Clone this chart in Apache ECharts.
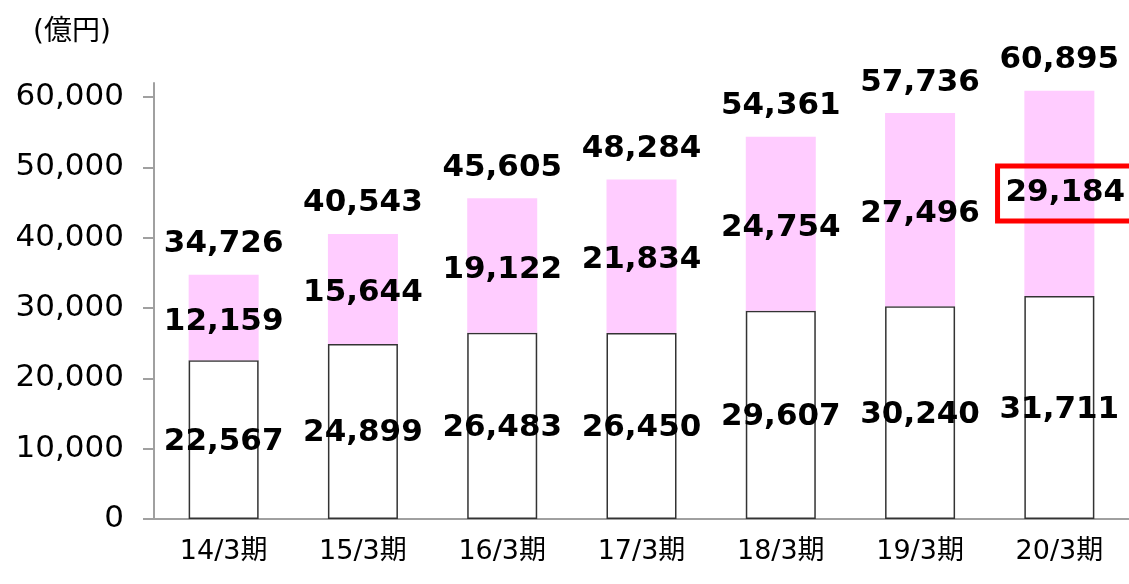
<!DOCTYPE html>
<html>
<head>
<meta charset="utf-8">
<script src="https://cdn.jsdelivr.net/npm/echarts@6/dist/echarts.min.js"></script>
<style>
    html, body { margin: 0; padding: 0; background: #fff; }
    #chart { width: 1129px; height: 584px; }
</style>
</head>
<body>
<div id="chart"></div>
<script>
const categories = ['14/3期', '15/3期', '16/3期', '17/3期', '18/3期', '19/3期', '20/3期'];
const baseValues = [22567, 24899, 26483, 26450, 29607, 30240, 31711];
const addValues = [12159, 15644, 19122, 21834, 24754, 27496, 29184];
const totalValues = [34726, 40543, 45605, 48284, 54361, 57736, 60895];
const unitLabel = '(億円)';

const fontFamily = '"DejaVu Sans", "Noto Sans CJK JP", sans-serif';
const fmt = v => v.toLocaleString('en-US');

let chart = echarts.init(document.getElementById('chart'));

// 最後の期だけ赤枠で強調
const addData = addValues.map((v, i) => {
    if (i !== addValues.length - 1) return v;
    return {
        value: v,
        label: {
            borderColor: '#ff0000',
            borderWidth: 5,
            padding: [14, 8, 10, 8],
            offset: [6, 0]
        }
    };
});

chart.setOption({
    backgroundColor: '#fff',
    animation: false,
    title: {
        text: unitLabel,
        left: 28,
        top: 14,
        textStyle: {
            fontFamily: fontFamily,
            fontWeight: 'normal',
            fontSize: 28,
            color: '#000'
        }
    },
    grid: {
        left: 154,
        top: 83,
        width: 986,
        bottom: 65,
        containLabel: false
    },
    xAxis: {
        type: 'category',
        data: categories,
        axisLine: { lineStyle: { color: '#a0a0a0', width: 2 } },
        axisTick: { show: false },
        axisLabel: {
            color: '#000',
            fontSize: 27,
            fontFamily: fontFamily,
            margin: 19
        }
    },
    yAxis: {
        type: 'value',
        min: 0,
        max: 62000,
        interval: 10000,
        splitLine: { show: false },
        axisLine: { show: true, lineStyle: { color: '#a0a0a0', width: 2 } },
        axisTick: { show: true, length: 11, lineStyle: { color: '#a0a0a0', width: 2 } },
        axisLabel: {
            showMaxLabel: false,
            color: '#000',
            fontSize: 31,
            fontFamily: fontFamily,
            margin: 30,
            formatter: v => fmt(v)
        }
    },
    series: [
        {
            name: 'base',
            type: 'bar',
            stack: 'total',
            barWidth: 70,
            itemStyle: { color: '#fff', borderColor: '#333', borderWidth: 1.5 },
            label: {
                show: true,
                position: 'inside',
                offset: [0, 2],
                color: '#000',
                fontWeight: 'bold',
                fontSize: 31,
                fontFamily: fontFamily,
                formatter: p => fmt(p.value)
            },
            data: baseValues
        },
        {
            name: 'add',
            type: 'bar',
            stack: 'total',
            barWidth: 70,
            itemStyle: { color: '#ffccff' },
            label: {
                show: true,
                position: 'inside',
                offset: [0, 4],
                color: '#000',
                fontWeight: 'bold',
                fontSize: 31,
                fontFamily: fontFamily,
                formatter: p => fmt(p.value)
            },
            data: addData
        },
        {
            name: 'total',
            type: 'bar',
            barWidth: 70,
            barGap: '-100%',
            z: 0,
            itemStyle: { color: 'rgba(0,0,0,0)' },
            label: {
                show: true,
                position: 'top',
                distance: 15,
                color: '#000',
                fontWeight: 'bold',
                fontSize: 31,
                fontFamily: fontFamily,
                formatter: p => fmt(p.value)
            },
            data: totalValues
        }
    ]
});

window.addEventListener('resize', () => chart.resize());
</script>
</body>
</html>
